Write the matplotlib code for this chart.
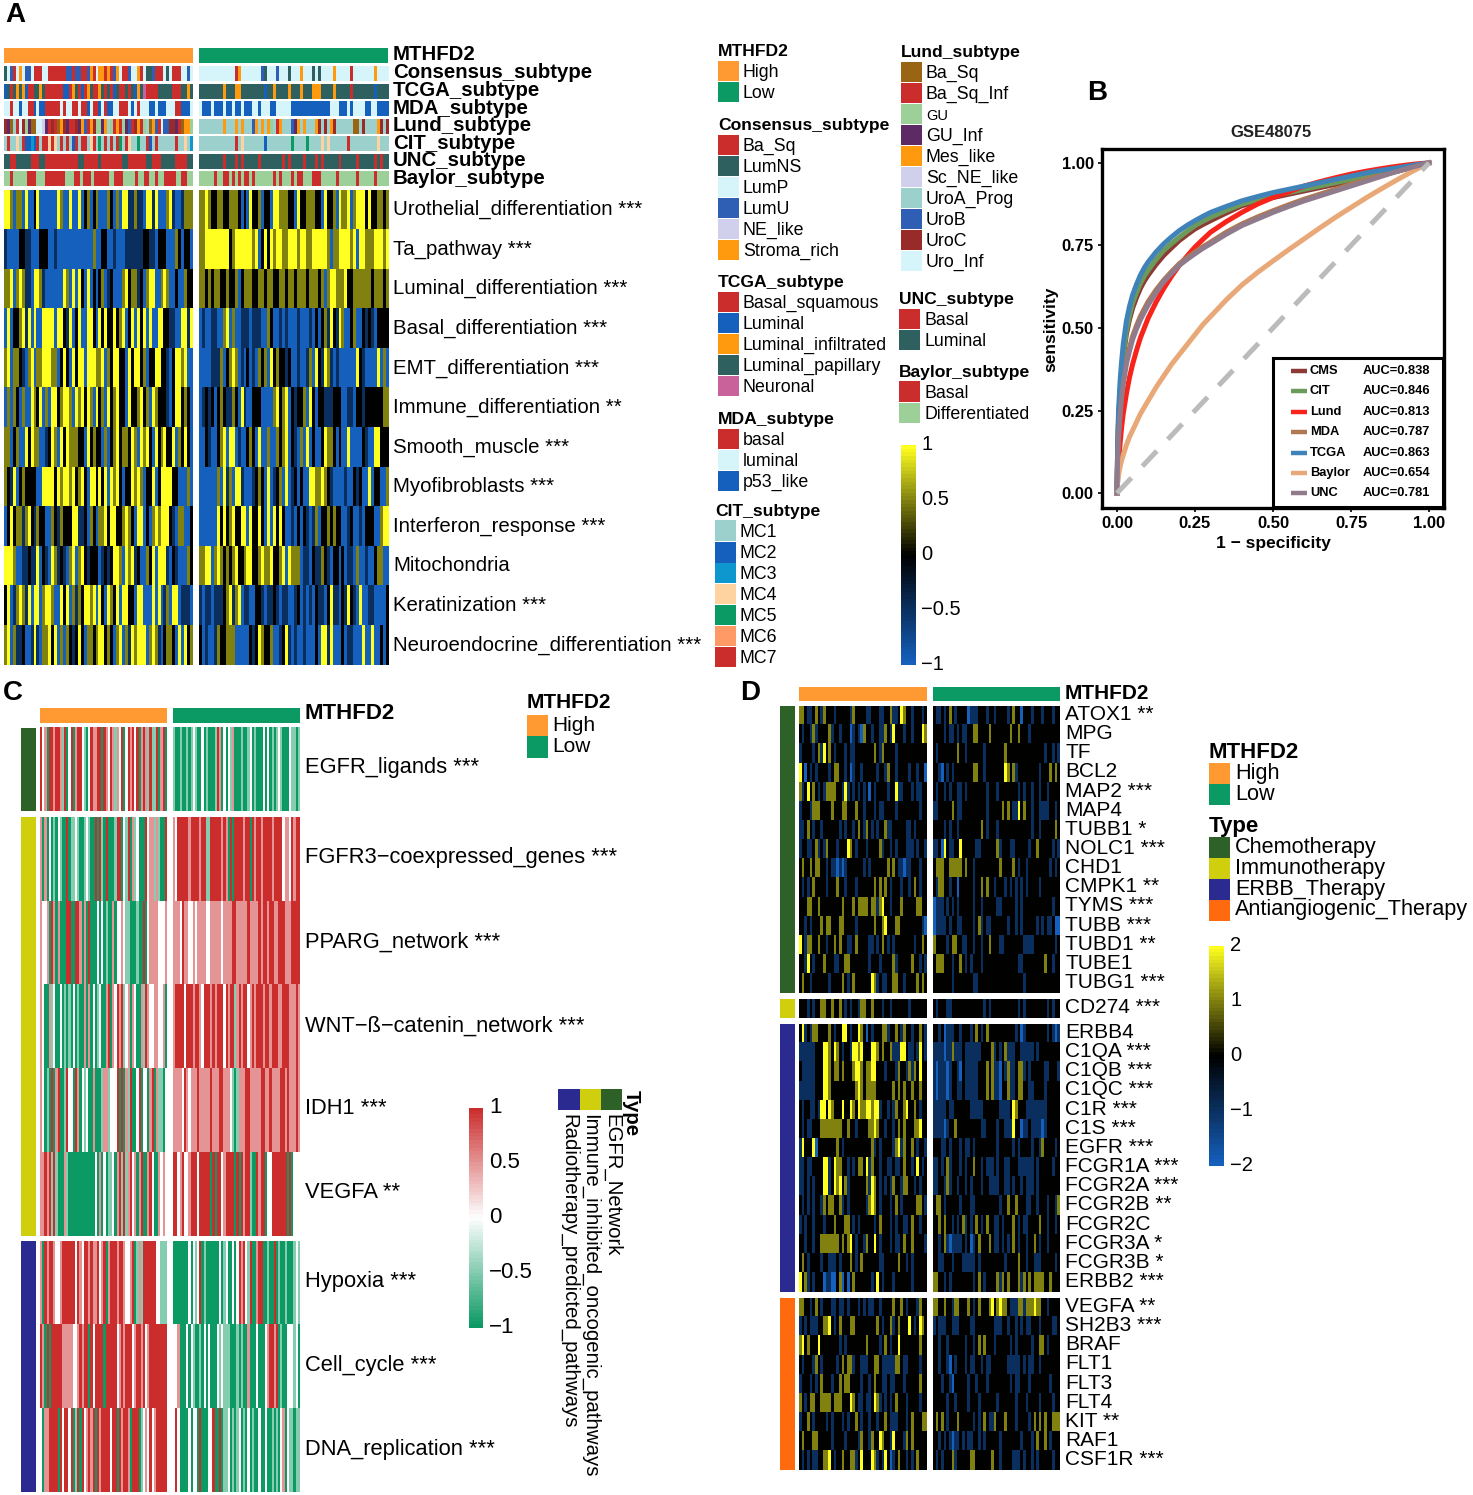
import numpy as np
import matplotlib
matplotlib.use("Agg")
import matplotlib.pyplot as plt
from matplotlib.colors import LinearSegmentedColormap, to_rgb

plt.rcParams['font.family'] = ['Liberation Sans', 'DejaVu Sans']

W, H = 1473, 1495

# annotation tracks of panel A, one letter per sample
track_names = ["Consensus_subtype", "TCGA_subtype", "MDA_subtype", "Lund_subtype",
               "CIT_subtype", "UNC_subtype", "Baylor_subtype"]
track_high = [
    "NPUBPSPUUPBBBPPBBBBBBUUBUUBBUSBPSSBSBUSPBBUPPSBPNNUBBBPNPBBBPPUP",
    "LPBPIPILBBPPIPBBBBBBLLBIPBLBIPBBIPBPBLPBBPBPLIPNBBBBPPPPPBBBPPIP",
    "LLBLLULLBBULUUBBBBBLBLLBBLBBULBBULBUULLBBBLULBLLLUULUUULLLBBUUUL",
    "CFARBICGFAAIISFBCBAMCFBBCFMUBMCGGFMRGBMBGFUBCMBGRAMUBIUUCCFBAMMG",
    "R7RR4R72U3U7R77474R7R7R27R77R47R5R7R7R75R74RR5RR72R7RRRRRR7RR4R3",
    "LLBBLLLLLBBBLLBBBBBBBBBBBLLBBBBBLBBBBBBBLLBBBBBBLLBBBLLLLLBBBBLL",
    "DDBDDDDDBBBDDDBBBBBBBDDDBBDBBBDBBBBBDDBBBDDDDBDDBBDDBDDBBBBDDBBDD",
]
track_low = [
    "PPPPPPPPPPPPBSPPPPPPPUNPPPUPPPNPPPSPPPNPNPPPPSPPPPPBPPPPPPPSPPPP",
    "PPPPPPPPIPPPIIPPPPPPPPLPPIPPPPIPPPIPPPIIIPPPPIPPPPPBPPPPPPPLPPPP",
    "LUUULUUULUULUULUUULLULLLUULLLLLUUUUUUUUUUUUULLLUUULULLLLUULLUUUU",
    "RRRRRRRRMRRRMRMRRRUMRMRMGRBMRRRUFMRMRRRMCRCRMCRRRRRRAARCRRRRMCRC",
    "RRRRRRRRRRRR7R4RRRRRRR2RRRRRRRR5RRRR5RRRR4R4RRRRRR7RRRRRRRRR4RRR",
    "LLLLLLLLBLLLBLBLLLLLBLLLLLLLBLBLLLLBLLLBLBLLLLLBLLLLLBLLLLLBLBLL",
    "DDDDDBDDBBDBDBDBBDBDDDDDDBDBDDDBDBBDDDBBBDDDDDBDDDDDDBDDDDDBDDDD",
]

# panel A heatmap rows, digits 0..4 read as -1, -0.5, 0, 0.5, 1
a_rows = ["Urothelial_differentiation ***", "Ta_pathway ***", "Luminal_differentiation ***",
          "Basal_differentiation ***", "EMT_differentiation ***", "Immune_differentiation **",
          "Smooth_muscle ***", "Myofibroblasts ***", "Interferon_response ***", "Mitochondria",
          "Keratinization ***", "Neuroendocrine_differentiation ***"]
a_high = [
    "4430330400240000004300400402302300032030441131104414000341001333",
    "1000022110002220010000000000003002200100011111122110222000320220",
    "3340343110443100000043040420402023012000342331203440034300200322",
    "0402234140400444404421402400442042422423402404240400442211004414",
    "3403321034033444330242042440444334032442204244230224422102443400",
    "0303203004324030442344304342430423042342204223423043222102442320",
    "3302300424330012430424333220423220302342332430434204234224032420",
    "3214023222200444424344342342044242404342022434302240244442200030",
    "0242331342132200321322244112032033424422343204402034344421033002",
    "4443001121140210431210340342122201212443043412003240444102100032",
    "2401343140440344300424031324434042043240442204400040401304401110",
    "3403112001410334240303212420332344232034031434440343102332040423",
]
a_low = [
    "3343223322333202042230220443332204223332204223043340344424223323",
    "3344444444234444443402424344334443443344444303344443404433344434",
    "3323233223223023332233233223323323332333230344333422333333233323",
    "0100110034030011101110032001010001000102023142143002300212102222",
    "0000111302343010201032304232212001001304214310100000042100004030",
    "0121202321132041002220000342340212230420221112220011022122222233",
    "0021002340440100232040030032340210304020024332020040000210044222",
    "0000003041304410001232040123040120200443343210000100212004022003",
    "0000004242342244042242040424200102021013022323220012001022200344",
    "3344034323234223442234334223404333011021132102202011030010023300",
    "1011011123413401100221011210110012010102110241102142104001100002",
    "2010013223330000021243223001241010010002044140002011000400400202",
]

# panel C rows, digits 0..4 read as -1, -0.5, 0, 0.5, 1
c_rows = ["EGFR_ligands ***", "FGFR3\u2212coexpressed_genes ***", "PPARG_network ***",
          "WNT\u2212\u00df\u2212catenin_network ***", "IDH1 ***", "VEGFA **", "Hypoxia ***",
          "Cell_cycle ***", "DNA_replication ***"]
c_high = [
    "4230443443140240344210243344043243132402434240343141140340",
    "3030201021004011210012100404104000144021403120004233131004",
    "3223043030004400443030400020201003022321100010040233332223",
    "3200312002010102010030302012003403243412303200314322332230",
    "3201040340014220430212003000133122240403140024022034031102",
    "3343414100031000000000000203020112034141342303400342003232",
    "3043443223444444243244343342340344434432234013144444422111",
    "4304044444333332234344042444404444423434442344342344444444",
    "2033444404244240140423434043444424404344304440123242344444",
]
c_low = [
    "1001001012100201000143020213000100120100020201012100021101",
    "3244444344443441144444343040444434404344344443444423324344",
    "3332433223233332233333233334433333433334344344334443334444",
    "3444424443443244434344424344134344234344434434443344433343",
    "3333243233343333343334433321013334433333443343333443433343",
    "4423422344424444404044234444040434410043440224444444040222",
    "0000000202124010000002012002024342140034400100401001000121",
    "2230002021001020200021211100010100300020002344340100222120",
    "2420000202204000224004011201012010201002002001010230211011",
]

# panel D genes by therapy type, digits 0..4 read as -2, -1, 0, 1, 2
d_genes = ["ATOX1 **", "MPG", "TF", "BCL2", "MAP2 ***", "MAP4", "TUBB1 *", "NOLC1 ***", "CHD1",
           "CMPK1 **", "TYMS ***", "TUBB ***", "TUBD1 **", "TUBE1", "TUBG1 ***", "CD274 ***",
           "ERBB4", "C1QA ***", "C1QB ***", "C1QC ***", "C1R ***", "C1S ***", "EGFR ***",
           "FCGR1A ***", "FCGR2A ***", "FCGR2B **", "FCGR2C", "FCGR3A *", "FCGR3B *", "ERBB2 ***",
           "VEGFA **", "SH2B3 ***", "BRAF", "FLT1", "FLT3", "FLT4", "KIT **", "RAF1", "CSF1R ***"]
d_group_sizes = [15, 1, 14, 9]
d_high = [
    "332112321322212222213222211222112231124322122212",
    "212213122223122122201210322122113214222122122243",
    "122221231423212221211222222232132222122222222222",
    "420212122221233221201221222221221322122221221220",
    "312423212133332214121212120212222122411222121122",
    "122213332222322233222322122212112222122222222122",
    "112321221222222121221232132121223112222211212222",
    "122112312132221222432122212222312212122211121221",
    "232232332212110101222222121222222323211011222122",
    "212123222212223221222122222232323212221221232122",
    "222332232222222232223233332331342212223222223322",
    "221212223233222332222122222232234222332222222210",
    "421332232212232322112322221121232121222222212232",
    "221421222322211223322222221222122223122222322121",
    "232212222221222232123222222431211223322122223232",
    "222121223322322321212213322322212212222221222222",
    "241213322223212244212243202122233122321322122321",
    "111111222443243212214434222443232231114421121421",
    "211111222443233232223443233442221222132213132422",
    "111111222443222222222343233332222223232322322322",
    "212211214424322242243243344344122121322342232122",
    "212112223333333322322122223343221221232322233422",
    "142224022222223212222222222312122221341322321221",
    "112112222441243322121233241322122112112322124212",
    "112121222441243423122222231432121213221332212122",
    "212121221323322312122222213432122212321222223321",
    "121221222122232223321212222212322212122112322122",
    "221221223333333232342122132242122212112322322221",
    "232122221221112122232123222222112222232212122222",
    "423121222011002302023222222124212221222222122222",
    "332212321222112112122212121122122223223212221322",
    "121211122334212322233222222223212231232224212432",
    "342322242222222121222222232222123212242222222322",
    "212221321222221232331221112233211111332112222122",
    "122212123222122323322221221232211211222122222322",
    "321233223333233322243211211243121212322212222122",
    "122321222212122212122321221221223211122212322233",
    "232223322222122221222213221322432214222132322222",
    "212121122334212232233124222431214201232212123222",
]
d_low = [
    "211212321222201112221221222212322022212221222122",
    "222212112121122332222322222223223222122222222222",
    "212222222322122222212222222322222222222222122121",
    "221021212222222332212222222432312222222212223232",
    "212212122112122222221222122222221212212212212222",
    "112222232112222222221222223232114232212211112212",
    "222212122122222222321222122222222222212212222232",
    "112042112242222211222222312221122222122322222121",
    "233322333332322122222222232222321221222222221212",
    "213322122022222122323221222121212121222212222222",
    "011121212122222122122222112222212122222222222122",
    "011112122112222123121122222212212122222121211200",
    "322221233221122122122322211222222211112222222212",
    "233322212232121222122222222222221122222222322122",
    "222222212222222112222222222222222212222222222222",
    "212221122222222222212122222222221212222222212122",
    "221201112212221232123222222222212012222222212101",
    "111101131112111111222231212311122111112122222222",
    "101110122102111112223231102131123312122222112221",
    "101110122112111112223231102231123322112222122222",
    "111112112222221111122222211112432221111111122222",
    "111101223222222222112222122111422011211110122222",
    "222112122212112122222222122222121222212213222212",
    "112123122212122322121112122112221111112122222122",
    "112213122122121222122111122112122121112122222222",
    "233212222212221122222222212232232221122122212213",
    "223232212123121232123221121222321211222232212212",
    "221231011112120123222321121212321221223212212222",
    "221122212221111121222222222122223221221112222212",
    "332212122222222123212222313232223132323333223222",
    "332232213322232123222342343321113313334332212222",
    "121112211122221122222221112212212121122212222112",
    "221221222222122123232221222221212222212233212222",
    "221221021222121122121122222211111212112212222222",
    "222122102222212212221222222221211222122222221222",
    "222221221222212221222222122222212221222212222122",
    "232321222322222121232113222322212222123232322333",
    "221212101121211221212222212222222122212322321222",
    "212122231222223322222232212222111212212122222122",
]

# ROC curves of panel B
roc_fpr = [0, .002, .005, .01, .015, .02, .03, .04, .05, .0625, .075, .0875, .1, .125, .15, .175, .2, .225, .25,
           .275, .3, .35, .4, .45, .5, .55, .6, .65, .7, .75, .8, .85, .9, .95, 1]
roc_cms = [0, .12, .22, .30, .36, .41, .48, .525, .56, .592, .62, .642, .66, .692, .72, .743, .765, .783, .80,
           .813, .825, .848, .87, .883, .895, .905, .915, .925, .935, .945, .955, .965, .975, .988, 1]
roc_cit = [0, .12, .22, .31, .37, .42, .49, .537, .575, .607, .635, .657, .675, .707, .735, .756, .775, .793, .81,
           .823, .835, .856, .875, .888, .90, .91, .92, .93, .94, .95, .96, .97, .98, .99, 1]
roc_lund = [0, .04, .09, .15, .20, .24, .30, .35, .39, .432, .47, .50, .53, .578, .62, .657, .69, .718, .745,
            .768, .79, .822, .85, .875, .895, .912, .93, .943, .955, .966, .975, .983, .99, .996, 1]
roc_mda = [0, .10, .18, .25, .30, .34, .40, .44, .475, .507, .535, .558, .58, .615, .645, .671, .695, .713, .73,
           .746, .76, .79, .815, .836, .855, .873, .89, .905, .92, .935, .95, .963, .975, .988, 1]
roc_tcga = [0, .14, .25, .34, .40, .45, .52, .565, .60, .632, .66, .682, .70, .73, .755, .776, .795, .811, .825,
            .838, .85, .868, .885, .898, .91, .92, .93, .94, .95, .96, .97, .978, .985, .993, 1]
roc_baylor = [0, .03, .055, .08, .10, .115, .145, .17, .19, .215, .24, .26, .28, .32, .355, .39, .42, .45, .48,
              .51, .535, .585, .63, .668, .703, .737, .77, .803, .835, .865, .895, .923, .95, .976, 1]
roc_unc = [0, .10, .17, .24, .29, .33, .39, .43, .465, .497, .525, .548, .57, .607, .64, .666, .69, .708, .725,
           .741, .755, .784, .81, .83, .85, .868, .885, .90, .915, .93, .945, .96, .975, .988, 1]
roc_names = ["CMS", "CIT", "Lund", "MDA", "TCGA", "Baylor", "UNC"]
roc_auc = [0.838, 0.846, 0.813, 0.787, 0.863, 0.654, 0.781]

HIGH, LOW = "#FF9A33", "#0C9A64"
RED, TEAL, PALE, ORANGE = "#CB2D2D", "#2F6060", "#D5F5FB", "#FF9A0E"
BLUE = "#1560BD"
track_colors = [
    dict(B=RED, N=TEAL, P=PALE, U="#2F5FB5", E="#D0CFEC", S=ORANGE),
    dict(B=RED, L=BLUE, I=ORANGE, P=TEAL, N="#C9629A"),
    dict(B=RED, L=PALE, U=BLUE),
    dict(A="#996515", B=RED, G="#9DD098", F="#5E2A66", M=ORANGE, S="#D0CFEC", R="#9CD0CC",
         U="#2F5FB5", C="#992A2A", I=PALE),
    {"1": "#9CD0CC", "2": BLUE, "3": "#0E96CE", "4": "#FFD3A0", "5": LOW, "6": "#FF9966", "7": RED,
     "R": "#9CD0CC", "U": BLUE},
    dict(B=RED, L=TEAL),
    dict(B=RED, D="#9DD098"),
]
blue_yellow = LinearSegmentedColormap.from_list("by", [BLUE, "#000000", "#FFFF20"])
green_red = LinearSegmentedColormap.from_list("gr", [LOW, "#FFFFFF", RED])

fig = plt.figure(figsize=(W / 100, H / 100), dpi=100)


def box(x0, y0, x1, y1):
    ax = fig.add_axes([x0 / W, 1 - y1 / H, (x1 - x0) / W, (y1 - y0) / H])
    ax.axis('off')
    return ax


def txt(x, y, s, size=12.5, **kw):
    kw.setdefault('va', 'center')
    fig.text(x / W, 1 - (y + 1.5) / H, s, fontsize=size, **kw)


def strip(x0, y0, x1, y1, codes, colors):
    rgb = np.array([[to_rgb(colors[c]) for c in codes]])
    box(x0, y0, x1, y1).imshow(rgb, aspect='auto', interpolation='nearest')


def heat_block(x0, y0, x1, y1, rows, cmap):
    # one axes per block so that no hairline shows between the rows
    ax = box(x0, y0, x1, y1)
    for j, digits in enumerate(rows):
        vals = [(int(c) - 2) / 2 for c in digits]
        ax.imshow([vals], cmap=cmap, vmin=-1, vmax=1, aspect='auto', interpolation='nearest',
                  extent=(0, 1, j + 1, j))
    ax.set_xlim(0, 1)
    ax.set_ylim(len(rows), 0)


def solid(x0, y0, x1, y1, color):
    box(x0, y0, x1, y1).imshow([[to_rgb(color)]], aspect='auto')


def legend(x, y, title, items, colors, step=21, size=12.8):
    txt(x, y, title, size=12.6, fontweight='bold')
    for i, (name, col) in enumerate(zip(items, colors)):
        yc = y + 21 + i * step
        solid(x, yc - step / 2, x + 21, yc + step / 2, col)
        txt(x + 25, yc, name, size=10.5 if name == "GU" else size)


def colorbar(x0, y0, x1, y1, cmap, labels, lx, size=14.5):
    grad = np.linspace(1, -1, 60).reshape(-1, 1)
    box(x0, y0, x1, y1).imshow(grad, cmap=cmap, vmin=-1, vmax=1, aspect='auto')
    ys = np.linspace(y0 - 2, y1 - 2, len(labels))
    for yy, lab in zip(ys, labels):
        txt(lx, yy, lab, size=size)


for lab, x, y in [("A", 15, 13), ("B", 1097, 92), ("C", 13, 691), ("D", 750, 692)]:
    txt(x, y, lab, size=20, fontweight='bold', ha='center')

# panel A
solid(4, 48, 193, 63, HIGH)
solid(199, 48, 388, 63, LOW)
txt(393, 53, "MTHFD2", size=14.7, fontweight='bold')
for i, name in enumerate(track_names):
    y0 = 66 + i * 17.55
    strip(4, y0, 193, y0 + 15, track_high[i], track_colors[i])
    strip(199, y0, 388, y0 + 15, track_low[i], track_colors[i])
    txt(393, y0 + 5.5, name, size=14.7, fontweight='bold')
heat_block(4, 190, 193, 665, a_high, blue_yellow)
heat_block(199, 190, 388, 665, a_low, blue_yellow)
for i, name in enumerate(a_rows):
    txt(393, 190 + i * 39.6 + 18, name, size=14.7)

legend(718, 50, "MTHFD2", ["High", "Low"], [HIGH, LOW])
legend(718, 124, "Consensus_subtype", ["Ba_Sq", "LumNS", "LumP", "LumU", "NE_like", "Stroma_rich"],
       [RED, TEAL, PALE, "#2F5FB5", "#D0CFEC", ORANGE])
legend(718, 281, "TCGA_subtype", ["Basal_squamous", "Luminal", "Luminal_infiltrated", "Luminal_papillary", "Neuronal"],
       [RED, BLUE, ORANGE, TEAL, "#C9629A"])
legend(718, 418, "MDA_subtype", ["basal", "luminal", "p53_like"], [RED, PALE, BLUE])
legend(715, 510, "CIT_subtype", ["MC1", "MC2", "MC3", "MC4", "MC5", "MC6", "MC7"],
       ["#9CD0CC", BLUE, "#0E96CE", "#FFD3A0", LOW, "#FF9966", RED])
legend(901, 51, "Lund_subtype", ["Ba_Sq", "Ba_Sq_Inf", "GU", "GU_Inf", "Mes_like", "Sc_NE_like", "UroA_Prog", "UroB", "UroC", "Uro_Inf"],
       ["#996515", RED, "#9DD098", "#5E2A66", ORANGE, "#D0CFEC", "#9CD0CC", "#2F5FB5", "#992A2A", PALE])
legend(899, 298, "UNC_subtype", ["Basal", "Luminal"], [RED, TEAL])
legend(899, 371, "Baylor_subtype", ["Basal", "Differentiated"], [RED, "#9DD098"])
colorbar(901, 445, 916, 665, blue_yellow, ["1", "0.5", "0", "\u22120.5", "\u22121"], 921)

# panel B
ax = fig.add_axes([1102 / W, 1 - 508 / H, 342 / W, 359 / H])
for curve, name, col in zip([roc_cms, roc_cit, roc_lund, roc_mda, roc_tcga, roc_baylor, roc_unc], roc_names,
                            ["#8C3A33", "#6B9A5B", "#F8231A", "#B07850", "#3F83B8", "#E8A878", "#8F7B8C"]):
    ax.plot(roc_fpr, curve, color=col, lw=3.6, label=name, solid_joinstyle='round', zorder=3)
ax.plot([0, 1], [0, 1], color="#BBBBBB", lw=3.6, dashes=(4.2, 3.2), zorder=4)
ax.set_xlim(-0.048, 1.048)
ax.set_ylim(-0.045, 1.042)
ax.set_xticks([0, .25, .5, .75, 1])
ax.set_yticks([0, .25, .5, .75, 1])
ax.set_xticklabels(["0.00", "0.25", "0.50", "0.75", "1.00"], fontweight='bold', fontsize=12)
ax.set_yticklabels(["0.00", "0.25", "0.50", "0.75", "1.00"], fontweight='bold', fontsize=12)
ax.tick_params(width=1.2, length=3, pad=3)
for s in ax.spines.values():
    s.set_linewidth(2.4)
txt(1271, 131, "GSE48075", size=12, fontweight='bold', ha='center', color="#222222")
txt(1273, 542, "1 \u2212 specificity", size=12.5, fontweight='bold', ha='center')
txt(1051, 328, "sensitivity", size=12.5, fontweight='bold', ha='center', rotation=90)
lax = fig.add_axes([1273 / W, 1 - 507 / H, 170 / W, 149 / H])
lax.set_xticks([])
lax.set_yticks([])
lax.set_xlim(1273, 1443)
lax.set_ylim(507, 358)
lax.set_zorder(5)
for s in lax.spines.values():
    s.set_linewidth(2.2)
for i, (line, name, auc) in enumerate(zip(ax.get_lines(), roc_names, roc_auc)):
    yy = 371 + i * 20.4
    lax.plot([1291, 1307], [yy, yy], color=line.get_color(), lw=3.2, solid_capstyle='butt')
    lax.text(1310, yy, name, fontsize=9.3, fontweight='bold', va='center')
    lax.text(1430, yy, "AUC=%.3f" % auc, fontsize=9.3, fontweight='bold', va='center', ha='right')

# panel C
solid(40, 708, 167, 723, HIGH)
solid(173, 708, 300, 723, LOW)
txt(305, 712, "MTHFD2", size=16, fontweight='bold')
solid(21, 728, 36, 811, "#2D6127")
solid(21, 817, 36, 1236, "#CFCF0E")
solid(21, 1241, 36, 1492, "#2A2A90")
heat_block(40, 727, 167, 811, c_high[:1], green_red)
heat_block(173, 727, 300, 811, c_low[:1], green_red)
heat_block(40, 817, 167, 1236, c_high[1:6], green_red)
heat_block(173, 817, 300, 1236, c_low[1:6], green_red)
heat_block(40, 1241, 167, 1492, c_high[6:], green_red)
heat_block(173, 1241, 300, 1492, c_low[6:], green_red)
c_tops = [727, 817, 901, 985, 1068, 1152, 1241, 1325, 1408]
for y0, name in zip(c_tops, c_rows):
    txt(305, y0 + 39.5, name, size=15.75)
txt(527, 701, "MTHFD2", size=15, fontweight='bold')
solid(527, 715, 548, 736, HIGH)
solid(527, 736, 548, 758, LOW)
txt(552, 724, "High", size=15)
txt(552, 745, "Low", size=15)
colorbar(469, 1108, 483, 1328, green_red, ["1", "0.5", "0", "\u22120.5", "\u22121"], 489, size=16)
solid(558, 1089, 580, 1110, "#2A2A90")
solid(580, 1089, 601, 1110, "#CFCF0E")
solid(601, 1089, 622, 1110, "#2D6127")
txt(631, 1088, "Type", size=14.7, fontweight='bold', rotation=270, va='top', ha='center')
txt(612, 1113, "EGFR_Network", size=14.7, rotation=270, va='top', ha='center')
txt(590, 1113, "Immune_inhibited_oncogenic_pathways", size=14.7, rotation=270, va='top', ha='center')
txt(569, 1113, "Radiotherapy_predicted_pathways", size=14.7, rotation=270, va='top', ha='center')

# panel D
solid(799, 687, 927, 701, HIGH)
solid(933, 687, 1060, 701, LOW)
txt(1065, 692, "MTHFD2", size=15, fontweight='bold')
d_tops = [706, 999, 1024, 1298]
d_cols = ["#2D6127", "#CFCF0E", "#2A2A90", "#FF6A0E"]
rh = 19.15
k = 0
for top, n, col in zip(d_tops, d_group_sizes, d_cols):
    solid(780, top, 795, top + n * rh, col)
    heat_block(799, top, 927, top + n * rh, d_high[k:k + n], blue_yellow)
    heat_block(933, top, 1060, top + n * rh, d_low[k:k + n], blue_yellow)
    for j in range(n):
        txt(1065, top + j * rh + 7, d_genes[k + j], size=15)
    k += n
txt(1209, 751, "MTHFD2", size=16, fontweight='bold')
solid(1209, 763, 1230, 784, HIGH)
solid(1209, 784, 1230, 805, LOW)
txt(1235, 772, "High", size=15.6)
txt(1235, 793, "Low", size=15.6)
txt(1209, 825, "Type", size=16, fontweight='bold')
for i, (name, col) in enumerate(zip(["Chemotherapy", "Immunotherapy", "ERBB_Therapy", "Antiangiogenic_Therapy"], d_cols)):
    solid(1209, 837 + i * 21, 1230, 858 + i * 21, col)
    txt(1235, 846 + i * 20.8, name, size=15.6)
colorbar(1209, 946, 1224, 1166, blue_yellow, ["2", "1", "0", "\u22121", "\u22122"], 1230, size=14.5)

fig.savefig("out.png", dpi=100, facecolor="white")
